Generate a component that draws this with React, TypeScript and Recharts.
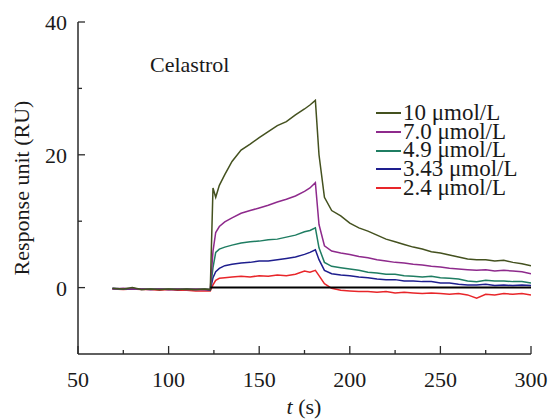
import React from 'react';
import { LineChart, Line, XAxis, YAxis, Legend, Customized } from 'recharts';

const times = [
  69, 75, 80, 85, 90, 95, 100, 105, 110, 115, 120, 123,
  124.5, 126, 128, 131, 135, 140, 145, 150, 155, 160, 165, 170, 175, 178, 181,
  183, 186, 190, 195, 200, 205, 210, 215, 220, 225, 230, 235, 240, 245, 250,
  255, 260, 265, 270, 275, 280, 285, 290, 295, 300,
];

const c10 = [
  -0.1, -0.2, 0.0, -0.3, -0.2, -0.3, -0.2, -0.3, -0.2, -0.3, -0.2, -0.3,
  15.0, 13.6, 15.4, 17.0, 19.0, 20.7, 21.6, 22.6, 23.5, 24.4, 25.0, 26.0, 26.9, 27.5, 28.2,
  20.0, 13.6, 11.6, 10.8, 9.7, 9.0, 8.5, 7.9, 7.3, 6.9, 6.5, 6.1, 5.8, 5.4, 5.2,
  4.9, 4.6, 4.3, 4.2, 4.2, 4.0, 4.1, 3.8, 3.6, 3.3,
];
const c70 = [
  -0.2, -0.1, -0.2, -0.2, -0.3, -0.2, -0.3, -0.2, -0.3, -0.2, -0.3, -0.3,
  5.5, 8.3, 9.2, 9.9, 10.5, 11.2, 11.6, 12.0, 12.4, 12.9, 13.3, 13.8, 14.5, 15.0, 15.8,
  9.5, 6.3, 5.5, 5.2, 5.0, 4.7, 4.5, 4.2, 4.0, 3.8, 3.7, 3.5, 3.4, 3.2, 3.1,
  2.9, 2.8, 2.7, 2.6, 2.7, 2.5, 2.6, 2.5, 2.4, 2.1,
];
const c49 = [
  -0.2, -0.2, -0.1, -0.3, -0.2, -0.3, -0.2, -0.2, -0.3, -0.3, -0.2, -0.3,
  3.0, 5.3, 5.8, 6.1, 6.4, 6.7, 6.9, 7.0, 7.2, 7.3, 7.6, 7.9, 8.4, 8.6, 9.0,
  6.0, 3.8, 3.2, 3.0, 2.8, 2.6, 2.3, 2.2, 2.0, 2.0, 1.8, 1.7, 1.6, 1.7, 1.5,
  1.4, 1.3, 1.0, 0.9, 1.1, 1.0, 1.0, 0.9, 0.9, 0.7,
];
const c343 = [
  -0.1, -0.2, -0.2, -0.2, -0.3, -0.2, -0.3, -0.3, -0.2, -0.3, -0.3, -0.4,
  1.5, 2.4, 2.9, 3.3, 3.5, 3.7, 3.8, 4.0, 4.0, 4.2, 4.4, 4.6, 5.0, 5.3, 5.7,
  4.2, 2.6, 2.1, 1.9, 1.8, 1.6, 1.5, 1.3, 1.2, 1.2, 1.0, 1.0, 0.9, 0.9, 0.7,
  0.7, 0.5, 0.4, 0.4, 0.5, 0.3, 0.4, 0.3, 0.4, 0.3,
];
const c24 = [
  -0.2, -0.3, -0.2, -0.3, -0.3, -0.4, -0.3, -0.4, -0.4, -0.5, -0.5, -0.5,
  0.4, 1.1, 1.4, 1.5, 1.6, 1.7, 1.6, 1.8, 1.7, 1.9, 1.8, 2.0, 2.5, 2.3, 2.6,
  1.8, 0.6, -0.1, -0.4, -0.5, -0.6, -0.6, -0.7, -0.6, -0.8, -0.7, -0.8, -0.9, -0.8, -0.9,
  -1.0, -0.9, -1.1, -1.6, -1.0, -1.1, -0.9, -1.0, -0.9, -1.1,
];

// zero line drawn after injection
const baseT = [123, 300];
const baseY = [0, 0];

const xTicks = [50, 75, 100, 125, 150, 175, 200, 225, 250, 275, 300];
const xLabelled = [50, 100, 150, 200, 250, 300];
const yTicks = [0, 10, 20, 30, 40];
const yLabelled = [0, 20, 40];

const seriesInfo = [
  { key: 'c10', name: '10 \u03bcmol/L', color: '#44511f' },
  { key: 'c70', name: '7.0 \u03bcmol/L', color: '#8e2a8c' },
  { key: 'c49', name: '4.9 \u03bcmol/L', color: '#1f7d62' },
  { key: 'c343', name: '3.43 \u03bcmol/L', color: '#1e1e8e' },
  { key: 'c24', name: '2.4 \u03bcmol/L', color: '#e8262a' },
];

const data = times.map((t, i) => ({
  t,
  c10: c10[i],
  c70: c70[i],
  c49: c49[i],
  c343: c343[i],
  c24: c24[i],
}));
const baseData = baseT.map((t, i) => ({ t, base: baseY[i] }));

const FONT = '"Liberation Serif", "Times New Roman", serif';
const AXIS = '#2a2a2a';

const YTick = (props: any) => {
  const { x, y, payload } = props;
  const major = yLabelled.includes(payload.value);
  return (
    <g>
      <line x1={x} x2={x + (major ? 7 : 4)} y1={y} y2={y} stroke={AXIS} strokeWidth={1.3} />
      {major && (
        <text x={x - 11} y={y} dy="0.36em" textAnchor="end" fontSize={22} fontFamily={FONT} fill="#1a1a1a">
          {payload.value}
        </text>
      )}
    </g>
  );
};

const XTick = (props: any) => {
  const { x, y, payload } = props;
  const major = xLabelled.includes(payload.value);
  return (
    <g>
      <line x1={x} x2={x} y1={y} y2={y - (major ? 8 : 4)} stroke={AXIS} strokeWidth={1.3} />
      {major && (
        <text x={x} y={y + 33} textAnchor="middle" fontSize={22} fontFamily={FONT} fill="#1a1a1a">
          {payload.value}
        </text>
      )}
    </g>
  );
};

const ROW = 18.7;

const LegendBox = () => (
  <div style={{ fontFamily: FONT, fontSize: 23, color: '#1a1a1a' }}>
    {seriesInfo.map((s) => (
      <div key={s.key} style={{ display: 'flex', alignItems: 'center', height: ROW, whiteSpace: 'nowrap' }}>
        <span style={{ display: 'inline-block', width: 25, height: 2, background: s.color, marginRight: 2 }} />
        <span style={{ display: 'inline-block', height: ROW, lineHeight: `${ROW}px`, overflow: 'visible' }}>{s.name}</span>
      </div>
    ))}
  </div>
);

const Annotations = () => (
  <g fontFamily={FONT} fill="#1a1a1a">
    <text x={150} y={72} fontSize={22}>Celastrol</text>
    <text x={21} y={188} fontSize={22} textAnchor="middle" dy="0.36em" transform="rotate(-90 21 188)">
      Response unit (RU)
    </text>
    <text x={304} y={414} fontSize={22} textAnchor="middle">
      <tspan fontStyle="italic">t</tspan> (s)
    </text>
  </g>
);

export default function App() {
  return (
    <div style={{ position: 'absolute', left: 0, top: 0, width: 553, height: 420, background: '#fff' }}>
      <LineChart width={553} height={420} data={data} margin={{ top: 22, right: 22, left: 0, bottom: 0 }}>
        <XAxis
          dataKey="t"
          type="number"
          domain={[50, 300]}
          ticks={xTicks}
          interval={0}
          height={66}
          tickSize={0}
          tickMargin={0}
          tickLine={false}
          tick={<XTick />}
          axisLine={{ stroke: AXIS, strokeWidth: 1.5 }}
          allowDataOverflow
        />
        <YAxis
          type="number"
          domain={[-10, 40]}
          ticks={yTicks}
          interval={0}
          width={78}
          tickSize={0}
          tickMargin={0}
          tickLine={false}
          tick={<YTick />}
          axisLine={{ stroke: AXIS, strokeWidth: 1.5 }}
          allowDataOverflow
        />
        <Legend
          layout="vertical"
          align="center"
          verticalAlign="middle"
          content={<LegendBox />}
          wrapperStyle={{ left: 376, top: 104, width: 'auto', height: 'auto' }}
        />
        {seriesInfo.slice().reverse().map((s) => (
          <Line
            key={s.key}
            dataKey={s.key}
            name={s.name}
            stroke={s.color}
            strokeWidth={1.5}
            dot={false}
            type="linear"
            isAnimationActive={false}
          />
        ))}
        <Line
          data={baseData}
          dataKey="base"
          stroke="#000"
          strokeWidth={2}
          dot={false}
          legendType="none"
          isAnimationActive={false}
        />
        <Customized component={Annotations} />
      </LineChart>
    </div>
  );
}
